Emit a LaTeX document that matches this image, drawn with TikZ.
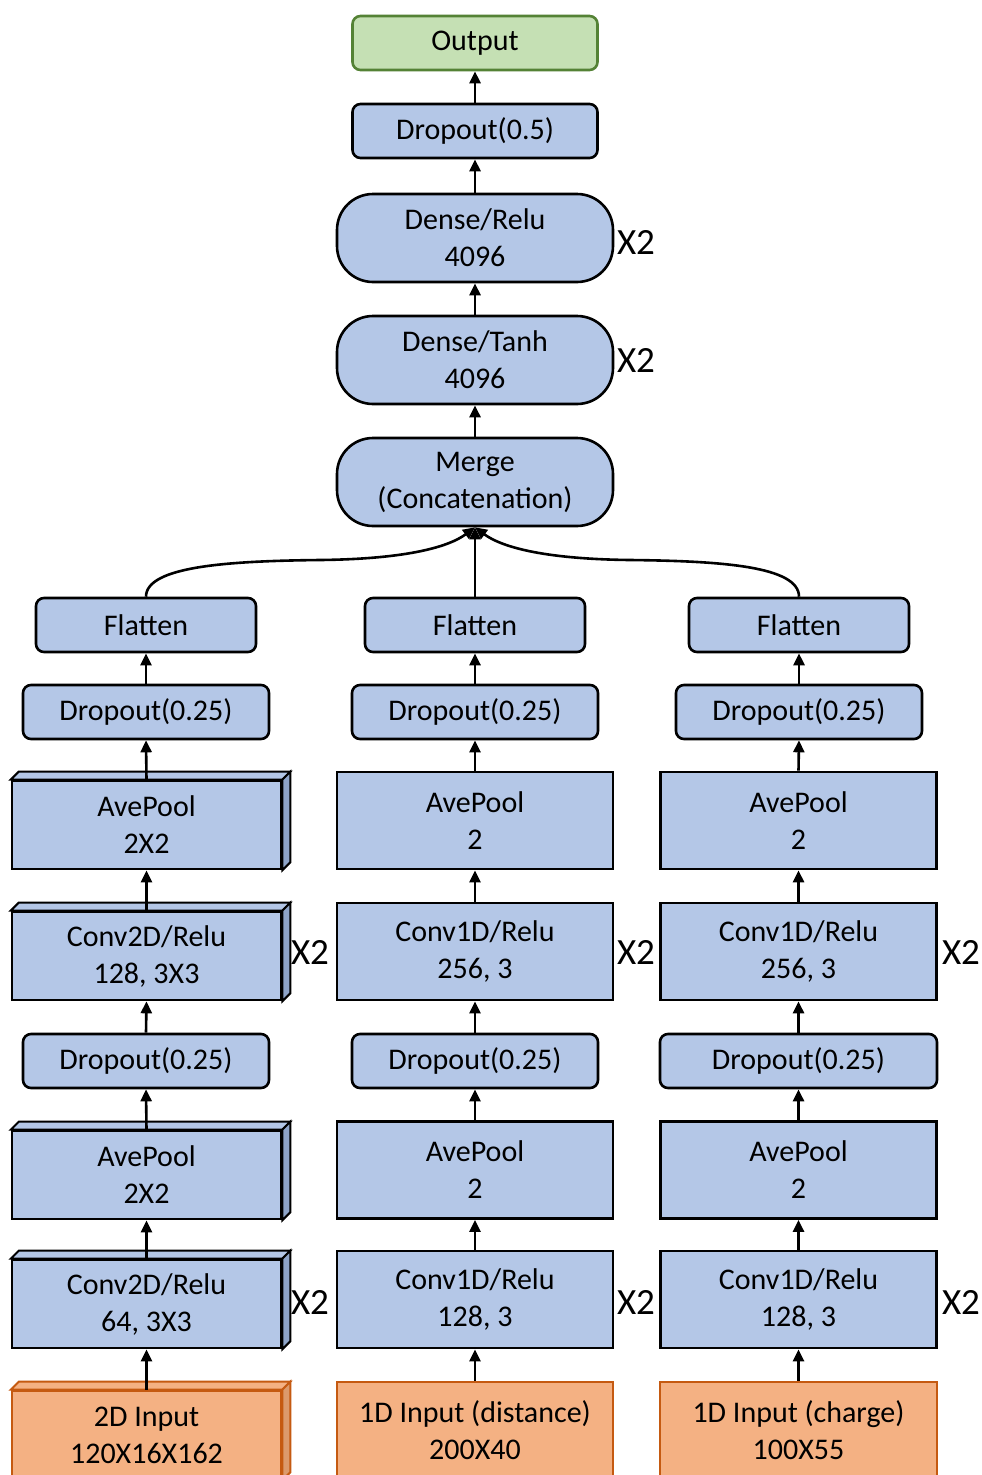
\documentclass[tikz,border=0pt]{standalone}
\usepackage{fontspec}
\setmainfont{Carlito}
\usetikzlibrary{arrows.meta}
\definecolor{bfill}{HTML}{B4C7E7}
\definecolor{bside}{HTML}{8EA4C8}
\definecolor{ofill}{HTML}{F4B183}
\definecolor{oside}{HTML}{DC9A6C}
\definecolor{oline}{HTML}{C55A11}
\definecolor{gfill}{HTML}{C5E0B4}
\definecolor{gline}{HTML}{548235}
\newcommand\threedbox[4]{%
  \draw[line width=2pt, draw=#4, fill=#2] (#1.north west) -- ++(8,-8) -- ([shift={(8,-8)}]#1.north east) -- (#1.north east) -- cycle;
  \draw[line width=2pt, draw=#4, fill=#3] (#1.north east) -- ++(8,-8) -- ([shift={(8,-8)}]#1.south east) -- (#1.south east) -- cycle;}
\tikzset{
  base/.style={draw=black, line width=2.6pt, fill=bfill, align=center, inner sep=0pt,
    font=\fontsize{30}{37}\selectfont},
  rb/.style={base, rounded corners=8pt, minimum height=54pt},
  dense/.style={base, rounded corners=36pt, minimum width=276pt, minimum height=88pt},
  sq/.style={base, minimum width=276pt, minimum height=97pt},
  sqd/.style={base, minimum width=269pt, minimum height=88pt},
  inp/.style={base, fill=ofill, draw=oline},
  arr/.style={draw=black, line width=2.6pt, -{Triangle[width=11pt,length=12pt]}},
  rep/.style={font=\fontsize{37}{40}\selectfont, inner sep=0pt}
}
\begin{document}
\begin{tikzpicture}[x=1pt,y=-1pt]
\clip (0,0) rectangle (982,1475);
\fill[white] (0,0) rectangle (982,1475);
% top stack
\node[rb, fill=gfill, draw=gline, minimum width=245pt] (out) at (475,43) {Output};
\node[rb, minimum width=245pt] (d05) at (475,131) {Dropout(0.5)};
\node[dense] (relu) at (475,238) {Dense/Relu\\4096};
\node[dense] (tanh) at (475,360) {Dense/Tanh\\4096};
\node[dense] (merge) at (475,482) {Merge\\(Concatenation)};
\node[rep] (x2relu) at (636,242) {X2};
\node[rep] (x2tanh) at (636,360) {X2};
% flatten
\node[rb, minimum width=220pt] (flL) at (146,625) {Flatten};
\node[rb, minimum width=220pt] (flM) at (475,625) {Flatten};
\node[rb, minimum width=220pt] (flR) at (799,625) {Flatten};
% dropout 1
\node[rb, minimum width=246pt] (dL1) at (146,712) {Dropout(0.25)};
\node[rb, minimum width=246pt] (dM1) at (475,712) {Dropout(0.25)};
\node[rb, minimum width=246pt] (dR1) at (799,712) {Dropout(0.25)};
% avepool 1
\node[sqd] (aL1) at (146.5,825) {AvePool\\2X2};
\threedbox{aL1}{bfill}{bside}{black}
\node[sq] (aM1) at (475,820.5) {AvePool\\2};
\node[sq] (aR1) at (798.5,820.5) {AvePool\\2};
% conv 1
\node[sqd] (cL1) at (146.5,956) {Conv2D/Relu\\128, 3X3};
\threedbox{cL1}{bfill}{bside}{black}
\node[sq] (cM1) at (475,951.5) {Conv1D/Relu\\256, 3};
\node[sq] (cR1) at (798.5,951.5) {Conv1D/Relu\\256, 3};
\node[rep] (x2L1) at (310,952) {X2};
\node[rep] (x2M1) at (636,952) {X2};
\node[rep] (x2R1) at (961,952) {X2};
% dropout 2
\node[rb, minimum width=246pt] (dL2) at (146,1061) {Dropout(0.25)};
\node[rb, minimum width=246pt] (dM2) at (475,1061) {Dropout(0.25)};
\node[rb, minimum width=277pt] (dR2) at (798.5,1061) {Dropout(0.25)};
% avepool 2
\node[sqd] (aL2) at (146.5,1175) {AvePool\\2X2};
\threedbox{aL2}{bfill}{bside}{black}
\node[sq] (aM2) at (475,1170) {AvePool\\2};
\node[sq] (aR2) at (798.5,1170) {AvePool\\2};
% conv 2
\node[sqd] (cL2) at (146.5,1304) {Conv2D/Relu\\64, 3X3};
\threedbox{cL2}{bfill}{bside}{black}
\node[sq] (cM2) at (475,1299.5) {Conv1D/Relu\\128, 3};
\node[sq] (cR2) at (798.5,1299.5) {Conv1D/Relu\\128, 3};
\node[rep] (x2L2) at (310,1302) {X2};
\node[rep] (x2M2) at (636,1302) {X2};
\node[rep] (x2R2) at (961,1302) {X2};
% inputs
\node[inp, minimum width=269pt, minimum height=88pt] (iL) at (146.5,1435) {2D Input\\120X16X162};
\threedbox{iL}{ofill}{oside}{oline}
\node[inp, minimum width=276pt, minimum height=97pt] (iM) at (475,1430.5) {1D Input (distance)\\200X40};
\node[inp, minimum width=277pt, minimum height=97pt] (iR) at (798.5,1430.5) {1D Input (charge)\\100X55};
% arrows
\foreach \a/\b in {d05/out, relu/d05, tanh/relu, merge/tanh,
  dL1/flL, dM1/flM, dR1/flR,
  aL1/dL1, aM1/dM1, aR1/dR1,
  cL1/aL1, cM1/aM1, cR1/aR1,
  dL2/cL1, dM2/cM1, dR2/cR1,
  aL2/dL2, aM2/dM2, aR2/dR2,
  cL2/aL2, cM2/aM2, cR2/aR2,
  iL/cL2, iM/cM2, iR/cR2}
  \draw[arr] (\a.north) -- (\b.south);
\draw[arr] (flM.north) -- (merge.south);
\draw[arr] (flL.north) .. controls (146,566) and (230,561) .. (320,560) .. controls (410,559) and (450,546) .. (merge.south);
\draw[arr] (flR.north) .. controls (799,566) and (720,561) .. (630,560) .. controls (540,559) and (500,546) .. (merge.south);
\end{tikzpicture}
\end{document}
